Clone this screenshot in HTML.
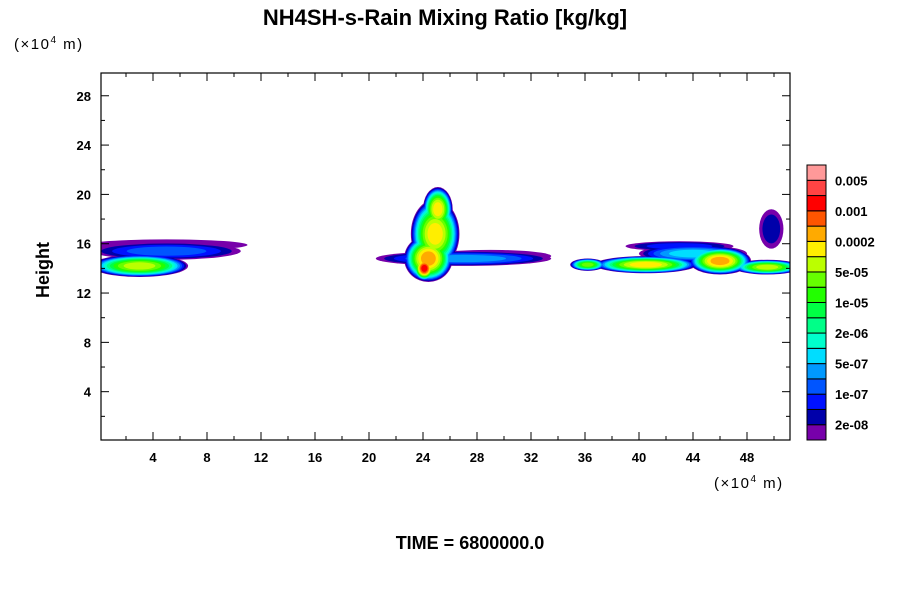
<!DOCTYPE html>
<html><head><meta charset="utf-8"><style>
body{margin:0;background:#fff;}
svg text{font-family:"Liberation Sans",sans-serif;}
</style></head><body>
<svg id="chart" width="900" height="600">
<defs><clipPath id="pc"><rect x="101" y="73" width="689" height="367"/></clipPath></defs>
<text x="445" y="25" text-anchor="middle" font-size="22" font-weight="bold">NH4SH-s-Rain Mixing Ratio [kg/kg]</text>
<text x="14" y="49" font-size="15" letter-spacing="1.5">(×10<tspan dy="-6" font-size="10">4</tspan><tspan dy="6">  m)</tspan></text>
<text x="714" y="488" font-size="15" letter-spacing="1.5">(×10<tspan dy="-6" font-size="10">4</tspan><tspan dy="6">  m)</tspan></text>
<text transform="translate(49,270) rotate(-90)" text-anchor="middle" font-size="18" font-weight="bold">Height</text>
<text x="470" y="549" text-anchor="middle" font-size="18" font-weight="bold">TIME = 6800000.0</text>
<g id="fields" clip-path="url(#pc)"></g>
<g id="axes"></g>
<g id="cbar"></g>
</svg>
<script>
const colors=["#7700aa","#0000aa","#0011ff","#0055ff","#0099ff","#00ddff","#00ffcc","#00ff88","#00ff44","#22ff00","#66ff00","#bbff00","#ffee00","#ffaa00","#ff5500","#ff0000","#ff4444","#ff9999"];
const cbarLabels=["2e-08","1e-07","5e-07","2e-06","1e-05","5e-05","0.0002","0.001","0.005"];
const xTicks=[4,8,12,16,20,24,28,32,36,40,44,48];
const yTicks=[4,8,12,16,20,24,28];
// blobs: center x, center y, radius x, radius y, peak level
const blobX=[5,5,3,29,27,24.4,24.9,25.1,24.1,43,44,36.2,40.5,49.5,46,49.8];
const blobY=[15.9,15.4,14.2,15,14.8,14.8,16.8,18.8,14,15.8,15.2,14.3,14.3,14.1,14.6,17.2];
const blobRX=[6,5.5,3.6,4.5,6.5,1.8,1.8,1.1,0.8,4,4,1.3,3.8,2.5,2.3,0.9];
const blobRY=[0.45,0.7,0.9,0.5,0.6,1.9,2.8,1.8,1.0,0.4,0.7,0.5,0.7,0.6,1.1,1.6];
const blobPeak=[0,3,11,0,4,13,12,12,15,2,5,10,12,11,13,1];
const NS="http://www.w3.org/2000/svg";
const sx=v=>99+13.5*v, sy=v=>441-12.33*v;
function mk(t,a,p){const e=document.createElementNS(NS,t);for(const k in a)e.setAttribute(k,a[k]);p.appendChild(e);return e;}
const f=document.getElementById('fields');
for(let lev=0;lev<colors.length;lev++){
  for(let i=0;i<blobX.length;i++){
    if(blobPeak[i]<lev)continue;
    const s=Math.pow(1-lev/(blobPeak[i]+1),0.45);
    const e=mk('ellipse',{cx:sx(blobX[i]),cy:sy(blobY[i]),rx:13.5*blobRX[i]*s,ry:12.33*blobRY[i]*s,fill:colors[lev]},f);
    
    
  }
}
const ax=document.getElementById('axes');
const fr=mk('rect',{x:101,y:73,width:689,height:367,fill:'none',stroke:'#000','stroke-width':1.2},ax);


for(let v=2;v<=50;v+=2){
  const L=v%4===0?8:4,x=sx(v);
  mk('line',{x1:x,x2:x,y1:440,y2:440-L,stroke:'#000'},ax);
  mk('line',{x1:x,x2:x,y1:73,y2:73+L,stroke:'#000'},ax);
}
for(let v=2;v<=29;v+=2){
  const L=v%4===0?8:4,y=sy(v);
  mk('line',{x1:101,x2:101+L,y1:y,y2:y,stroke:'#000'},ax);
  mk('line',{x1:790,x2:790-L,y1:y,y2:y,stroke:'#000'},ax);
}
xTicks.forEach(v=>{const t=mk('text',{x:sx(v),y:462,'text-anchor':'middle','font-size':13,'font-weight':'bold'},ax);t.textContent=v;

});
yTicks.forEach(v=>{const t=mk('text',{x:91,y:sy(v)+5,'text-anchor':'end','font-size':13,'font-weight':'bold'},ax);t.textContent=v;

});
const cb=document.getElementById('cbar');
const bh=275/colors.length;
colors.forEach((c,i)=>{const r=mk('rect',{x:807,y:440-(i+1)*bh,width:19,height:bh,fill:c,stroke:'#000','stroke-width':1},cb);

});
cbarLabels.forEach((l,i)=>{const t=mk('text',{x:835,y:440-(2*i+1)*bh+5,'font-size':13,'font-weight':'bold'},cb);t.textContent=l;

});
</script>
</body></html>
